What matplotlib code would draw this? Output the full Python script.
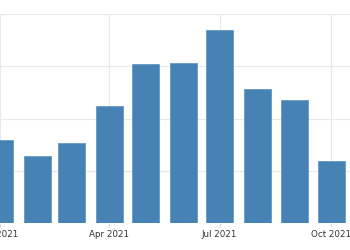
import matplotlib
matplotlib.use('Agg')
import matplotlib.pyplot as plt
import matplotlib.dates as mdates
import numpy as np
import datetime as dt

# valores mensais (escala das linhas de grade)
meses = ['2021-01-01', '2021-02-01', '2021-03-01', '2021-04-01', '2021-05-01',
         '2021-06-01', '2021-07-01', '2021-08-01', '2021-09-01', '2021-10-01']
valores = [1.59, 1.28, 1.54, 2.24, 3.05, 3.06, 3.70, 2.56, 2.35, 1.19]
ticks_x = ['2021-01-01', '2021-04-01', '2021-07-01', '2021-10-01']

datas = [dt.datetime.strptime(m, '%Y-%m-%d') for m in meses]
datas_ticks = [dt.datetime.strptime(m, '%Y-%m-%d') for m in ticks_x]

fig = plt.figure(figsize=(3.5, 2.5), dpi=100)
ax = fig.add_axes([0, 0.108, 1, 0.836])

ax.bar(datas, valores, width=22, color='#4682b4', edgecolor='#5a90c0',
       linewidth=0.5, zorder=3)

ax.set_xlim(dt.datetime(2021, 1, 5), dt.datetime(2021, 10, 16, 12))
ax.set_ylim(0, 4)
ax.set_yticks([0, 1, 2, 3, 4])
ax.set_xticks(datas_ticks)
ax.xaxis.set_major_formatter(mdates.DateFormatter('%b %Y'))

ax.grid(True, color='#e8e8e8', linewidth=0.8, zorder=0)
for s in ax.spines.values():
    s.set_visible(False)
ax.tick_params(axis='y', left=False, labelleft=False)
ax.tick_params(axis='x', length=3, color='#dddddd', labelsize=6.3,
               labelcolor='#333333', pad=2)

fig.savefig('out.png', dpi=100)
